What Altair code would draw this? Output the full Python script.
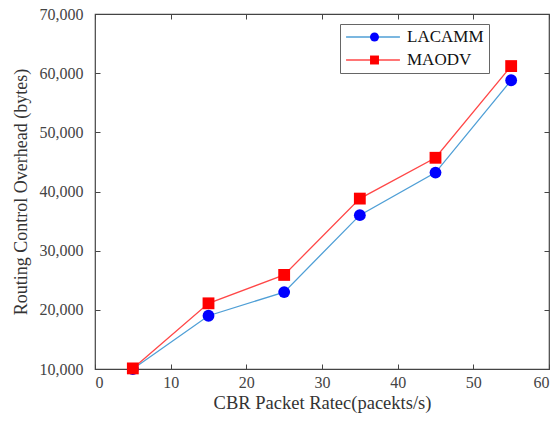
import altair as alt
import pandas as pd

rates = [5, 15, 25, 35, 45, 55]
lacamm = [10000, 19000, 23000, 36000, 43200, 58800]
maodv = [10100, 21100, 25900, 38800, 45700, 61200]
series_names = ["LACAMM", "MAODV"]
line_colors = ["#4f9fd6", "#ff4747"]
marker_colors = ["#0000ff", "#ff0000"]

rows = []
for name, vals in zip(series_names, [lacamm, maodv]):
    for r, v in zip(rates, vals):
        rows.append({"rate": r, "overhead": v, "series": name})
df = pd.DataFrame(rows)

FONT = "Times New Roman, Liberation Serif, DejaVu Serif, serif"
xs = alt.Scale(domain=[0, 60], nice=False)
ys = alt.Scale(domain=[10000, 70000], nice=False)

common_axis = dict(domain=False, grid=False, tickSize=5, offset=-5, tickColor="#444",
                   tickWidth=1, labelFont=FONT, labelFontSize=16, labelColor="#444",
                   titleFont=FONT, titleColor="#333", titleFontWeight="normal")

leg_common = dict(title=None, orient="none", legendY=10, labelFont=FONT, labelFontSize=17,
                  labelOffset=6, rowPadding=6, padding=5, clipHeight=16)

lines = alt.Chart(df).mark_line(strokeWidth=1.3).encode(
    x=alt.X("rate:Q", scale=xs, axis=alt.Axis(orient="bottom", values=[0, 10, 20, 30, 40, 50, 60],
                                              title="CBR Packet Ratec(pacekts/s)", labelPadding=5,
                                              titlePadding=3, titleFontSize=18.5, **common_axis)),
    y=alt.Y("overhead:Q", scale=ys, axis=alt.Axis(orient="left", values=[10000, 20000, 30000, 40000, 50000, 60000, 70000],
                                                   format=",d", title="Routing Control Overhead (bytes)",
                                                   labelPadding=12, titlePadding=9, titleFontSize=18,
                                                   **common_axis)),
    color=alt.Color("series:N", scale=alt.Scale(domain=series_names, range=line_colors),
                    legend=alt.Legend(legendX=245, symbolType="stroke", symbolSize=2900,
                                      symbolStrokeWidth=1.3, labelColor="#111",
                                      strokeColor="#666", cornerRadius=0, **leg_common)),
)

points = alt.Chart(df).mark_point(filled=True, opacity=1, size=140).encode(
    x=alt.X("rate:Q", scale=xs, axis=alt.Axis(orient="top", labels=False, title=None,
                                              values=[0, 10, 20, 30, 40, 50, 60], **common_axis)),
    y=alt.Y("overhead:Q", scale=ys, axis=alt.Axis(orient="right", labels=False, title=None,
                                                   values=[10000, 20000, 30000, 40000, 50000, 60000, 70000],
                                                   **common_axis)),
    color=alt.Color("series:N", scale=alt.Scale(domain=series_names, range=marker_colors),
                    legend=alt.Legend(legendX=266, symbolSize=80, labelExpr="''", **leg_common)),
    shape=alt.Shape("series:N", scale=alt.Scale(domain=series_names, range=["circle", "square"]),
                    legend=alt.Legend(legendX=266, symbolSize=80, labelExpr="''", **leg_common)),
)

chart = alt.layer(lines, points).resolve_scale(color="independent", shape="independent").resolve_axis(
    x="independent", y="independent"
).properties(
    width=454, height=355,
    autosize=alt.AutoSizeParams(type="none"),
    padding={"left": 95, "top": 14, "right": 11, "bottom": 52},
).configure_view(stroke="#444", strokeWidth=1.2)

chart.save("out.html", embed_options={"renderer": "svg", "actions": False})
